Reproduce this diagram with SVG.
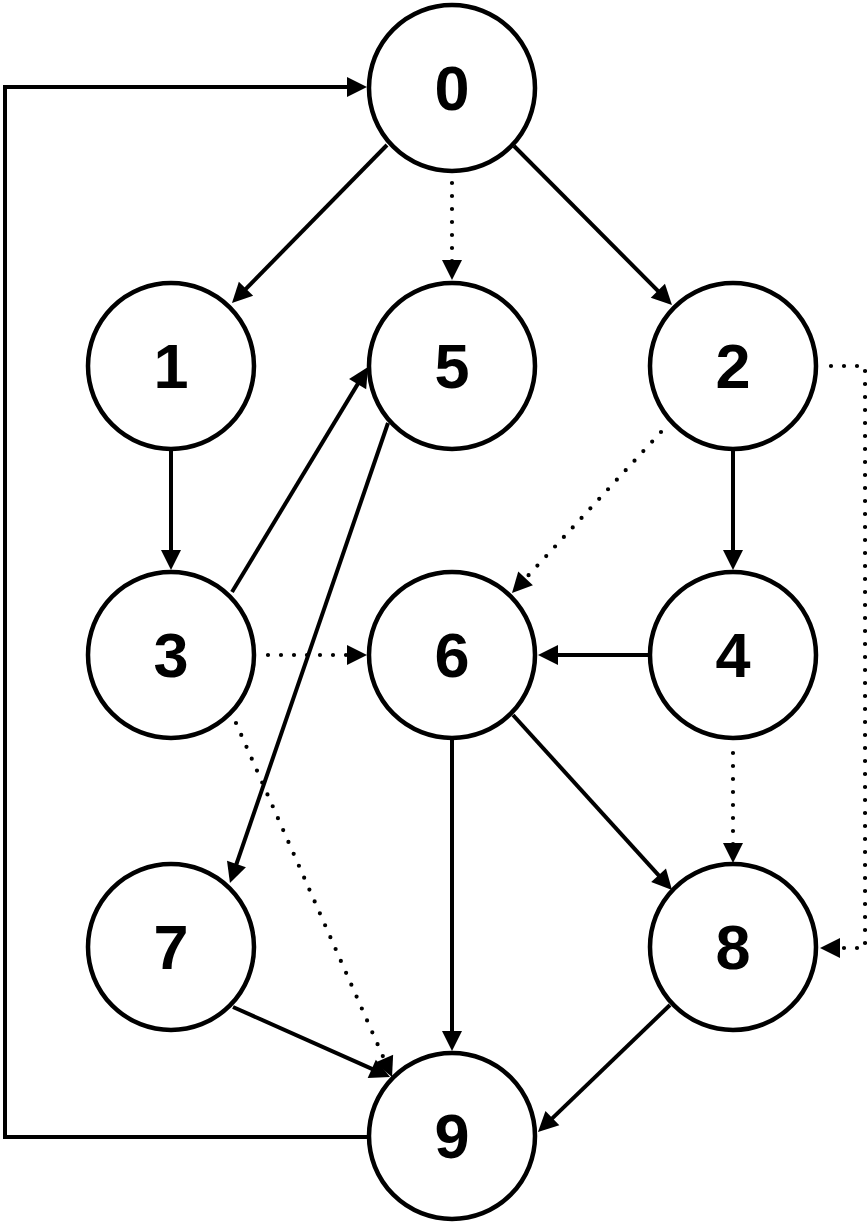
<svg xmlns="http://www.w3.org/2000/svg" width="867" height="1223" viewBox="0 0 867 1223">
<style>
.node circle{fill:#fff;stroke:#000;stroke-width:4.5}
.node text{font-family:"Liberation Sans",Arial,sans-serif;font-weight:bold;font-size:63px;text-anchor:middle;fill:#000}
.e{fill:none;stroke:#000;stroke-width:4;marker-end:url(#arr)}
.d{fill:none;stroke:#000;stroke-width:4.2;stroke-linecap:round;stroke-dasharray:0 13;marker-end:url(#arr)}
</style>
<defs>
<marker id="arr" markerUnits="userSpaceOnUse" markerWidth="22" markerHeight="22" refX="10" refY="10" orient="auto" overflow="visible">
<path d="M0,0 L20,10 L0,20 z" fill="#000"/>
</marker>
</defs>
<rect width="867" height="1223" fill="#fff"/>
<g id="connectors">
<line class="e" x1="387" y1="145" x2="239" y2="295.9"/>
<line class="d" x1="452" y1="183" x2="452" y2="270"/>
<line class="e" x1="514" y1="146" x2="664.9" y2="297.9"/>
<line class="e" x1="171" y1="451" x2="171" y2="560"/>
<line class="e" x1="232" y1="592" x2="362.8" y2="375.6"/>
<line class="e" x1="388" y1="423" x2="233.2" y2="873.5"/>
<line class="d" x1="661" y1="432" x2="518.8" y2="585.7"/>
<path class="d" d="M831,366 H865 V948 H830"/>
<line class="e" x1="733" y1="451" x2="733" y2="560"/>
<line class="d" x1="268" y1="655" x2="357" y2="655"/>
<line class="d" x1="236" y1="723" x2="388" y2="1067.9"/>
<line class="e" x1="648" y1="655" x2="548" y2="655"/>
<line class="d" x1="733" y1="753" x2="733" y2="853"/>
<line class="e" x1="452" y1="740" x2="452" y2="1041"/>
<line class="e" x1="513" y1="715" x2="665.3" y2="882.6"/>
<line class="e" x1="233" y1="1007" x2="380.9" y2="1072.9"/>
<line class="e" x1="670" y1="1005" x2="545.2" y2="1125.1"/>
<path class="e" d="M367,1137 H5 V87 H357"/>
</g>
<g id="n0" class="node"><circle cx="452" cy="88" r="83"/><text x="452" y="110">0</text></g>
<g id="n1" class="node"><circle cx="171" cy="366" r="83"/><text x="171" y="388">1</text></g>
<g id="n5" class="node"><circle cx="452" cy="366" r="83"/><text x="452" y="388">5</text></g>
<g id="n2" class="node"><circle cx="733" cy="366" r="83"/><text x="733" y="388">2</text></g>
<g id="n3" class="node"><circle cx="171" cy="655" r="83"/><text x="171" y="677">3</text></g>
<g id="n6" class="node"><circle cx="452" cy="655" r="83"/><text x="452" y="677">6</text></g>
<g id="n4" class="node"><circle cx="733" cy="655" r="83"/><text x="733" y="677">4</text></g>
<g id="n7" class="node"><circle cx="171" cy="947" r="83"/><text x="171" y="969">7</text></g>
<g id="n8" class="node"><circle cx="733" cy="947" r="83"/><text x="733" y="969">8</text></g>
<g id="n9" class="node"><circle cx="452" cy="1136" r="83"/><text x="452" y="1158">9</text></g>
</svg>
